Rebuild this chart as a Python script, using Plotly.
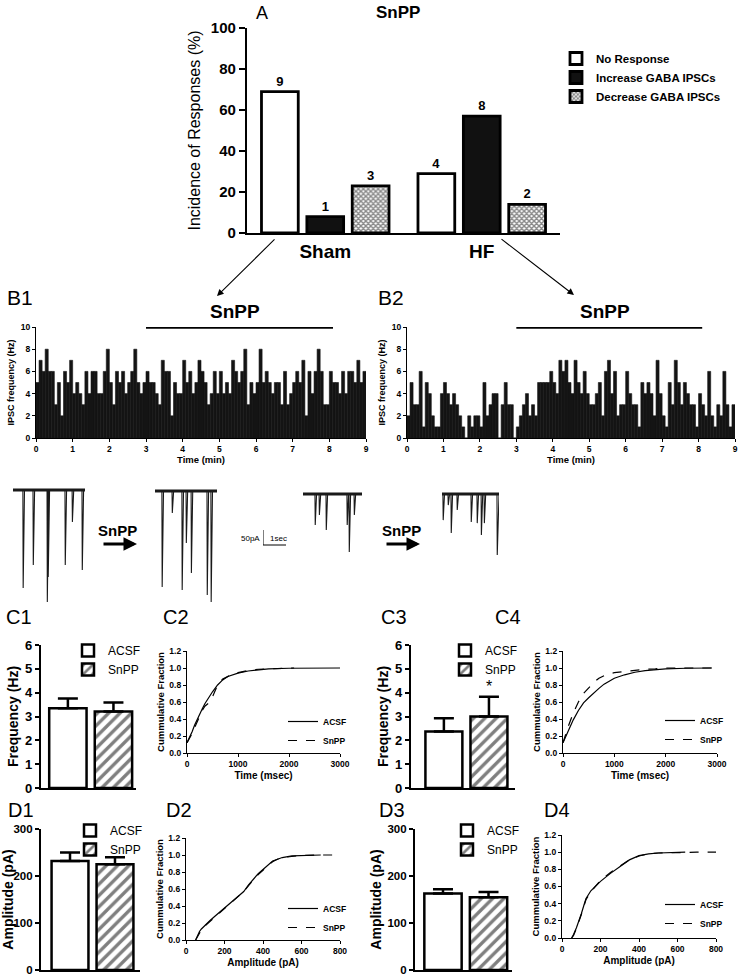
import plotly.graph_objects as go

W, H = 740, 978
FONT = "Liberation Sans, Arial, sans-serif"

# ---------------- DATA ----------------
groups = ["Sham", "HF"]
no_response_pct = [69, 29]
increase_pct = [8, 57]
decrease_pct = [23, 14]
no_response_n = [9, 4]
increase_n = [1, 8]
decrease_n = [3, 2]

bin_width_min = 5 / 60  # 5-second bins, time in minutes
b1_freq = [5, 7, 6, 8, 6, 6, 3, 5, 2, 6, 5, 7, 4, 5, 4, 3, 6, 4, 6, 6,
           4, 4, 6, 8, 5, 3, 6, 5, 6, 4, 5, 6, 8, 5, 4, 5, 6, 5, 5, 4,
           3, 7, 6, 6, 2, 5, 4, 4, 7, 5, 6, 4, 5, 7,
           6, 5, 3, 4, 6, 4, 6, 4, 5, 4, 7, 6, 5, 6, 8, 3, 5, 4, 5, 8,
           5, 6, 5, 4, 5, 5, 3, 6, 3, 4, 5, 6, 5, 7, 2, 6, 4, 6, 8, 6,
           3, 3, 6, 5, 5, 4, 6, 4, 6, 6, 5, 7, 5, 6]
b2_freq = [2, 5, 3, 3, 6, 1, 5, 4, 2, 1, 1, 4, 5, 4, 3, 4, 3, 2, 1, 0,
           2, 1, 2, 2, 1, 5, 2, 3, 4, 4, 0, 3, 5, 3, 3, 0, 1, 2, 3, 4,
           2, 3, 2, 5, 5, 5, 5, 6, 5, 4, 7, 6, 7, 5, 4, 7, 5, 4, 6, 4,
           3, 3, 4, 5, 2, 6, 7, 4, 6, 2, 3, 3, 6, 4, 3, 3, 1, 5, 4, 5,
           4, 2, 7, 4, 2, 1, 5, 3, 7, 5, 3, 5, 4, 3, 3, 1, 4, 3, 2, 6,
           2, 1, 3, 2, 6, 3, 1, 3]
snpp_period_min = [3.0, 8.1]

# example traces: event times (s) and amplitudes (pA)
tr1_t = [0.43, 0.87, 1.48, 1.52, 2.26, 2.57, 3.00]
tr1_a = [327, 250, 373, 290, 250, 107, 267]
tr1_dur = 3.13
tr2_t = [0.30, 0.74, 1.17, 1.35, 1.57, 2.26, 2.43]
tr2_a = [320, 73, 330, 173, 273, 347, 370]
tr2_dur = 2.70
tr3_t = [0.52, 0.70, 1.00, 1.91, 2.00, 2.22]
tr3_a = [103, 70, 120, 103, 193, 70]
tr3_dur = 2.57
tr4_t = [0.04, 0.26, 0.39, 0.65, 1.26, 1.52, 1.70, 1.83, 2.39]
tr4_a = [87, 37, 130, 53, 93, 97, 137, 97, 203]
tr4_dur = 2.48
scale_pA = 50
scale_s = 1

conditions = ["ACSF", "SnPP"]
c1_mean = [3.35, 3.21]
c1_sem = [0.41, 0.38]
c3_mean = [2.37, 3.00]
c3_sem = [0.56, 0.83]
d1_mean = [232, 225]
d1_sem = [18, 15]
d3_mean = [163, 155]
d3_sem = [9, 11]

c2_acsf_t = [0, 50, 100, 150, 200, 250, 300, 350, 400, 450, 500, 600, 700, 800, 900, 1000, 1200, 1400, 1600, 2000, 2500, 3000]
c2_acsf_y = [0.12, 0.18, 0.25, 0.33, 0.40, 0.46, 0.52, 0.58, 0.63, 0.68, 0.72, 0.80, 0.86, 0.90, 0.92, 0.94, 0.965, 0.98, 0.99, 0.997, 1.0, 1.0]
c2_snpp_t = [0, 50, 100, 150, 200, 250, 300, 350, 400, 450, 500, 550, 600, 700, 800, 900, 1000, 1200, 1400, 1600, 2000, 2100]
c2_snpp_y = [0.12, 0.17, 0.23, 0.30, 0.37, 0.44, 0.50, 0.55, 0.57, 0.60, 0.66, 0.74, 0.80, 0.87, 0.90, 0.93, 0.945, 0.97, 0.985, 0.99, 1.0, 1.0]

c4_acsf_t = [0, 50, 100, 200, 300, 400, 500, 600, 700, 800, 900, 1000, 1200, 1400, 1600, 1800, 2000, 2400, 2900]
c4_acsf_y = [0.12, 0.19, 0.26, 0.39, 0.50, 0.59, 0.65, 0.71, 0.76, 0.81, 0.85, 0.88, 0.92, 0.95, 0.97, 0.98, 0.99, 0.997, 1.0]
c4_snpp_t = [0, 50, 100, 200, 300, 400, 500, 600, 700, 800, 900, 1000, 1200, 1400, 1600, 1800, 2000, 2400, 2900]
c4_snpp_y = [0.12, 0.22, 0.31, 0.47, 0.60, 0.70, 0.77, 0.83, 0.88, 0.91, 0.93, 0.945, 0.96, 0.975, 0.985, 0.99, 1.0, 1.0, 1.0]

d2_acsf_a = [50, 55, 60, 70, 80, 100, 125, 150, 175, 200, 225, 250, 275, 300, 325, 350, 375, 400, 425, 450, 475, 500, 550, 600, 650, 700]
d2_acsf_y = [0, 0.03, 0.06, 0.10, 0.13, 0.18, 0.23, 0.28, 0.33, 0.38, 0.43, 0.47, 0.52, 0.57, 0.65, 0.72, 0.78, 0.83, 0.88, 0.93, 0.95, 0.97, 0.99, 0.995, 1.0, 1.0]
d2_snpp_a = [50, 55, 60, 70, 80, 100, 125, 150, 175, 200, 225, 250, 275, 300, 325, 350, 375, 400, 425, 450, 475, 500, 550, 600, 700, 800]
d2_snpp_y = [0, 0.02, 0.05, 0.09, 0.12, 0.17, 0.22, 0.27, 0.32, 0.37, 0.42, 0.47, 0.52, 0.57, 0.64, 0.71, 0.77, 0.82, 0.88, 0.92, 0.95, 0.97, 0.985, 0.995, 1.0, 1.0]

d4_acsf_a = [50, 60, 75, 90, 100, 115, 125, 150, 175, 200, 250, 300, 350, 400, 450, 500, 600, 640]
d4_acsf_y = [0, 0.04, 0.12, 0.21, 0.28, 0.39, 0.46, 0.55, 0.61, 0.66, 0.75, 0.83, 0.91, 0.96, 0.98, 0.99, 1.0, 1.0]
d4_snpp_a = [50, 60, 75, 90, 100, 115, 125, 150, 175, 200, 250, 300, 350, 400, 450, 500, 600, 700, 800]
d4_snpp_y = [0, 0.03, 0.11, 0.20, 0.27, 0.38, 0.45, 0.54, 0.61, 0.67, 0.76, 0.84, 0.91, 0.955, 0.98, 0.99, 0.998, 1.0, 1.0]

# ---------------- LAYOUT HELPERS (pixel coords) ----------------
def px(x):
    return x / W

def py(y):
    return 1 - y / H

def dx(a, b):
    return [px(a), px(b)]

def dy(top, bot):
    return [py(bot), py(top)]

def bf(size):
    return dict(family=FONT, size=size, color="black", weight="bold")

def rf(size):
    return dict(family=FONT, size=size, color="black")

def axis(domain, **kw):
    d = dict(domain=domain, showgrid=False, zeroline=False, showline=True, automargin=False,
             linecolor="black", linewidth=1.2, ticks="outside", tickcolor="black",
             ticklen=3, tickwidth=1.2)
    d.update(kw)
    return d

def hidden(domain, rng):
    return dict(domain=domain, range=rng, visible=False, showgrid=False, zeroline=False,
                fixedrange=True, automargin=False)

fig = go.Figure()
layout = {}

# ---------------- PANEL A ----------------
layout["xaxis"] = axis(dx(247, 560), type="category", categoryorder="array", categoryarray=groups,
                       ticks="", linewidth=2.2, tickfont=bf(19), anchor="y")
layout["yaxis"] = axis(dy(28, 233), range=[0, 100], dtick=20, ticklen=6, tickwidth=2, linewidth=2.2,
                       tickfont=bf(15), anchor="x",
                       title=dict(text="Incidence of Responses (%)", font=rf(16), standoff=6))
a_series = [
    ("No Response", no_response_pct, no_response_n, dict(color="white")),
    ("Increase GABA IPSCs", increase_pct, increase_n, dict(color="#111111")),
    ("Decrease GABA IPSCs", decrease_pct, decrease_n,
     dict(color="white", pattern=dict(shape="x", size=3.5, solidity=0.65, fgcolor="#111111", bgcolor="white"))),
]
for name, vals, ns, mk in a_series:
    mk = dict(mk)
    mk["line"] = dict(color="black", width=2.8)
    fig.add_trace(go.Bar(x=groups, y=vals, name=name, marker=mk, text=[str(n) for n in ns],
                         textposition="outside", textfont=bf(13), cliponaxis=False,
                         xaxis="x", yaxis="y", legend="legend"))

# ---------------- PANEL B ----------------
centers1 = [(i + 0.5) * bin_width_min for i in range(len(b1_freq))]
centers2 = [(i + 0.5) * bin_width_min for i in range(len(b2_freq))]
for k, (cent, vals, x0, x1) in enumerate([(centers1, b1_freq, 36, 366), (centers2, b2_freq, 407, 735)]):
    i = 2 + k
    layout[f"xaxis{i}"] = axis(dx(x0, x1), range=[0, 9], dtick=1, tickfont=bf(8.5), anchor=f"y{i}",
                               title=dict(text="Time (min)", font=bf(9.5), standoff=3))
    layout[f"yaxis{i}"] = axis(dy(327, 438), range=[0, 10], dtick=2, tickfont=bf(8.5), anchor=f"x{i}",
                               title=dict(text="IPSC frequency (Hz)", font=bf(9), standoff=4))
    fig.add_trace(go.Bar(x=cent, y=vals, width=bin_width_min, offset=-bin_width_min / 2,
                         marker=dict(color="#141414", line=dict(color="#141414", width=0.6)), showlegend=False,
                         xaxis=f"x{i}", yaxis=f"y{i}"))

# ---------------- EXAMPLE TRACES ----------------
PX_PER_S = 23.0
PA_PER_PX = 50 / 15.0

def trace_xy(ts, amps, dur):
    xs, ys = [0], [0]
    for t, a in sorted(zip(ts, amps)):
        xs += [t, t + 0.012, t + 0.07]
        ys += [0, -a, 0]
    xs.append(dur)
    ys.append(0)
    return xs, ys

traces = [(tr1_t, tr1_a, tr1_dur, 13, 490), (tr2_t, tr2_a, tr2_dur, 155, 491),
          (tr3_t, tr3_a, tr3_dur, 303, 494), (tr4_t, tr4_a, tr4_dur, 442, 494)]
for k, (ts, amps, dur, x0, base) in enumerate(traces):
    i = 4 + k
    layout[f"xaxis{i}"] = hidden(dx(x0, x0 + dur * PX_PER_S), [0, dur])
    layout[f"xaxis{i}"]["anchor"] = f"y{i}"
    layout[f"yaxis{i}"] = hidden(dy(base - 10, base + 125), [-125 * PA_PER_PX, 10 * PA_PER_PX])
    layout[f"yaxis{i}"]["anchor"] = f"x{i}"
    xs, ys = trace_xy(ts, amps, dur)
    fig.add_trace(go.Scatter(x=[0, dur], y=[0, 0], mode="lines", line=dict(color="#1a1a1a", width=3.2),
                             showlegend=False, hoverinfo="skip", xaxis=f"x{i}", yaxis=f"y{i}"))
    fig.add_trace(go.Scatter(x=xs, y=ys, mode="lines", line=dict(color="#1a1a1a", width=1.1),
                             showlegend=False, xaxis=f"x{i}", yaxis=f"y{i}"))

# scale bar
layout["xaxis8"] = hidden(dx(263, 263 + 30), [0, 30 / PX_PER_S])
layout["xaxis8"]["anchor"] = "y8"
layout["yaxis8"] = hidden(dy(520, 560), [-15 * PA_PER_PX, 25 * PA_PER_PX])
layout["yaxis8"]["anchor"] = "x8"
fig.add_trace(go.Scatter(x=[0, 0, scale_s], y=[scale_pA, 0, 0], mode="lines",
                         line=dict(color="black", width=1), showlegend=False, xaxis="x8", yaxis="y8"))

# ---------------- C / D BAR PANELS ----------------
BW = 0.82

def bar_panel(i, xdom, ydom, xr, yr, dtick, means, sems, ytitle, legname, tfs):
    layout[f"xaxis{i}"] = axis(xdom, type="category", categoryorder="array", categoryarray=conditions,
                               range=xr, showticklabels=False, ticks="", linewidth=2.2, anchor=f"y{i}")
    layout[f"yaxis{i}"] = axis(ydom, range=yr, dtick=dtick, ticklen=4, tickwidth=2, linewidth=2.2,
                               tickfont=bf(tfs), anchor=f"x{i}",
                               title=dict(text=ytitle, font=bf(14), standoff=3))
    styles = [dict(color="white"),
              dict(color="white", pattern=dict(shape="/", size=8, solidity=0.42, fgcolor="black", bgcolor="white"))]
    for j, cond in enumerate(conditions):
        mk = dict(styles[j])
        mk["line"] = dict(color="black", width=2.5)
        fig.add_trace(go.Bar(x=[cond], y=[means[j]], name=cond, width=BW, offset=-BW / 2, marker=mk,
                             error_y=dict(type="data", array=[sems[j]], arrayminus=[0], symmetric=False,
                                          color="black", thickness=2.5, width=10),
                             xaxis=f"x{i}", yaxis=f"y{i}", legend=legname))

bar_panel(9, dx(41, 136), dy(645, 788), [-0.59, 1.495], [0, 6], 1, c1_mean, c1_sem, "Frequency (Hz)", "legend2", 13)
bar_panel(11, dx(411, 515), dy(645, 788), [-0.73, 1.578], [0, 6], 1, c3_mean, c3_sem, "Frequency (Hz)", "legend4", 13)
bar_panel(13, dx(41, 140), dy(829, 970), [-0.645, 1.556], [0, 300], 100, d1_mean, d1_sem, "Amplitude (pA)", "legend6", 11.5)
bar_panel(15, dx(415, 512), dy(829, 970), [-0.615, 1.516], [0, 300], 100, d3_mean, d3_sem, "Amplitude (pA)", "legend8", 11.5)

# ---------------- CUMULATIVE PANELS ----------------
def cum_panel(i, xdom, ydom, xr, xt, xtitle, acsf, snpp, legname):
    layout[f"xaxis{i}"] = axis(xdom, range=xr, tickvals=xt, tickfont=bf(8.5), anchor=f"y{i}",
                               title=dict(text=xtitle, font=bf(10), standoff=3))
    layout[f"yaxis{i}"] = axis(ydom, range=[0, 1.2], dtick=0.2, tickformat=".1f", tickfont=bf(8.5),
                               anchor=f"x{i}", title=dict(text="Cummulative Fraction", font=bf(9.5), standoff=3))
    fig.add_trace(go.Scatter(x=acsf[0], y=acsf[1], mode="lines", name="ACSF",
                             line=dict(color="black", width=1.2), xaxis=f"x{i}", yaxis=f"y{i}", legend=legname))
    fig.add_trace(go.Scatter(x=snpp[0], y=snpp[1], mode="lines", name="SnPP",
                             line=dict(color="black", width=1.2, dash="dash"), xaxis=f"x{i}", yaxis=f"y{i}",
                             legend=legname))

cum_panel(10, dx(187, 340), dy(651, 753), [0, 3000], [0, 1000, 2000, 3000], "Time (msec)",
          (c2_acsf_t, c2_acsf_y), (c2_snpp_t, c2_snpp_y), "legend3")
cum_panel(12, dx(563, 717), dy(651, 753), [0, 3000], [0, 1000, 2000, 3000], "Time (msec)",
          (c4_acsf_t, c4_acsf_y), (c4_snpp_t, c4_snpp_y), "legend5")
cum_panel(14, dx(186, 340), dy(838, 940), [0, 800], [0, 200, 400, 600, 800], "Amplitude (pA)",
          (d2_acsf_a, d2_acsf_y), (d2_snpp_a, d2_snpp_y), "legend7")
cum_panel(16, dx(562, 716), dy(835, 938), [0, 800], [0, 200, 400, 600, 800], "Amplitude (pA)",
          (d4_acsf_a, d4_acsf_y), (d4_snpp_a, d4_snpp_y), "legend9")

# ---------------- LEGENDS ----------------
def leg(xp, yp, font):
    return dict(x=px(xp), y=py(yp), xanchor="left", yanchor="top", bgcolor="rgba(0,0,0,0)",
                borderwidth=0, font=font, tracegroupgap=0, itemclick=False, itemdoubleclick=False)

layout["legend"] = leg(556, 44, bf(11.5))
layout["legend2"] = leg(68, 636, rf(12))
layout["legend3"] = leg(283, 707, bf(8.5))
layout["legend4"] = leg(445, 636, rf(12))
layout["legend5"] = leg(660, 706, bf(8.5))
layout["legend6"] = leg(70, 816, rf(12))
layout["legend7"] = leg(283, 894, bf(8.5))
layout["legend8"] = leg(447, 816, rf(12))
layout["legend9"] = leg(660, 890, bf(8.5))

# ---------------- ANNOTATIONS & SHAPES ----------------
ann = []

def text(xp, yp, t, font, **kw):
    d = dict(x=px(xp), y=py(yp), xref="paper", yref="paper", text=t, showarrow=False, font=font,
             xanchor="center", yanchor="middle")
    d.update(kw)
    ann.append(d)

text(262, 13, "A", rf(18))
text(398, 12, "SnPP", bf(17))
for lab, xp in [("B1", 20), ("B2", 391)]:
    text(xp, 297, lab, rf(21))
text(235, 312, "SnPP", bf(19))
text(605, 312, "SnPP", bf(19))
for lab, xp, yp in [("C1", 19, 617), ("C2", 176, 617), ("C3", 394, 617), ("C4", 508, 617),
                    ("D1", 21, 810), ("D2", 179, 810), ("D3", 392, 810), ("D4", 557, 810)]:
    text(xp, yp, lab, rf(20))
text(117, 530, "SnPP", bf(15))
text(401, 530, "SnPP", bf(15))
text(251, 538, "50pA", rf(8))
text(278, 538, "1sec", rf(8))

# arrows from panel A to B
ann.append(dict(x=px(217), y=py(296), xref="paper", yref="paper", text="", showarrow=True,
                ax=59, ay=-58, arrowhead=2, arrowsize=1.2, arrowwidth=1.1, arrowcolor="black"))
ann.append(dict(x=px(574), y=py(295), xref="paper", yref="paper", text="", showarrow=True,
                ax=-74, ay=-57, arrowhead=2, arrowsize=1.2, arrowwidth=1.1, arrowcolor="black"))
# SnPP arrows in trace row
for xh in (137, 420):
    ann.append(dict(x=px(xh), y=py(544), xref="paper", yref="paper", text="", showarrow=True,
                    ax=-35, ay=0, arrowhead=2, arrowsize=0.9, arrowwidth=3, arrowcolor="black"))
# significance star
ann.append(dict(x="SnPP", y=c3_mean[1] + c3_sem[1], xref="x11", yref="y11", text="*", showarrow=False,
                font=rf(16), yanchor="bottom", yshift=0))

shapes = []
for i in (2, 3):
    shapes.append(dict(type="line", xref=f"x{i}", yref=f"y{i}", x0=snpp_period_min[0], x1=snpp_period_min[1],
                       y0=10, y1=10, line=dict(color="black", width=3.5)))

fig.update_layout(**layout)
fig.update_layout(width=W, height=H, margin=dict(l=0, r=0, t=0, b=0, autoexpand=False),
                  paper_bgcolor="white", plot_bgcolor="white",
                  barmode="group", bargap=0.13, bargroupgap=0.19,
                  annotations=ann, shapes=shapes, font=rf(12), showlegend=True)

# remove the default 8px page margin so the figure sits at the window origin
fig.write_html("out.html", config={"displayModeBar": False},
               post_script="document.body.style.margin='0px';")
